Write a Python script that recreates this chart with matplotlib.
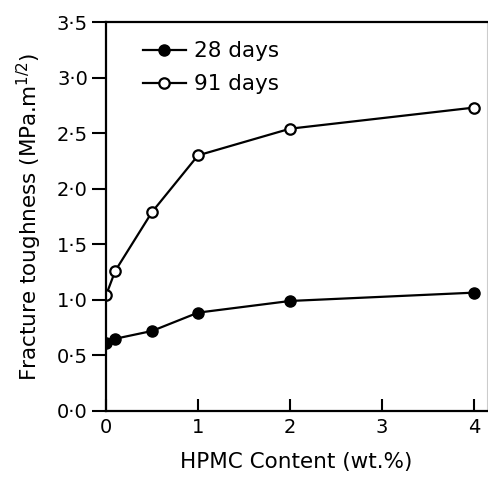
import matplotlib.pyplot as plt
from matplotlib.ticker import FuncFormatter

# Data
hpmc = [0, 0.1, 0.5, 1, 2, 4]
kic_28 = [0.61, 0.65, 0.72, 0.885, 0.99, 1.065]
kic_91 = [1.04, 1.26, 1.79, 2.30, 2.54, 2.73]
x_ticks = [0, 1, 2, 3, 4]
y_ticks = [0.0, 0.5, 1.0, 1.5, 2.0, 2.5, 3.0, 3.5]

plt.rcParams['font.family'] = 'DejaVu Sans'

fig = plt.figure(figsize=(4.88, 4.79), dpi=100)
ax = fig.add_axes([106 / 488, 68 / 479, 381 / 488, 389 / 479])

ax.plot(hpmc, kic_28, '-o', color='black', lw=1.6, ms=8,
        mfc='black', mec='black', label='28 days')
ax.plot(hpmc, kic_91, '-o', color='black', lw=1.6, ms=7.5,
        mfc='white', mec='black', mew=1.6, label='91 days')

ax.set_xlim(0, 4.14)
ax.set_ylim(0, 3.5)
ax.set_xticks(x_ticks)
ax.set_yticks(y_ticks)
ax.yaxis.set_major_formatter(FuncFormatter(lambda v, p: f'{v:.1f}'.replace('.', '·')))

ax.tick_params(axis='x', direction='in', length=9, width=1.5, labelsize=14, pad=5)
ax.tick_params(axis='y', direction='out', length=10, width=1.5, labelsize=14, pad=3)

for s in ['left', 'bottom', 'top']:
    ax.spines[s].set_linewidth(1.6)
ax.spines['right'].set_color('#cccccc')
ax.spines['right'].set_linewidth(0.8)

ax.set_xlabel('HPMC Content (wt.%)', fontsize=15.5, labelpad=11)
ax.set_ylabel('Fracture toughness (MPa.m$^{1/2}$)', fontsize=15.5, labelpad=9)

ax.legend(loc='upper left', bbox_to_anchor=(0.045, 1.0), frameon=False,
          fontsize=15.5, handlelength=2.0, handletextpad=0.4, labelspacing=0.6)

fig.savefig('out.png', dpi=100)
